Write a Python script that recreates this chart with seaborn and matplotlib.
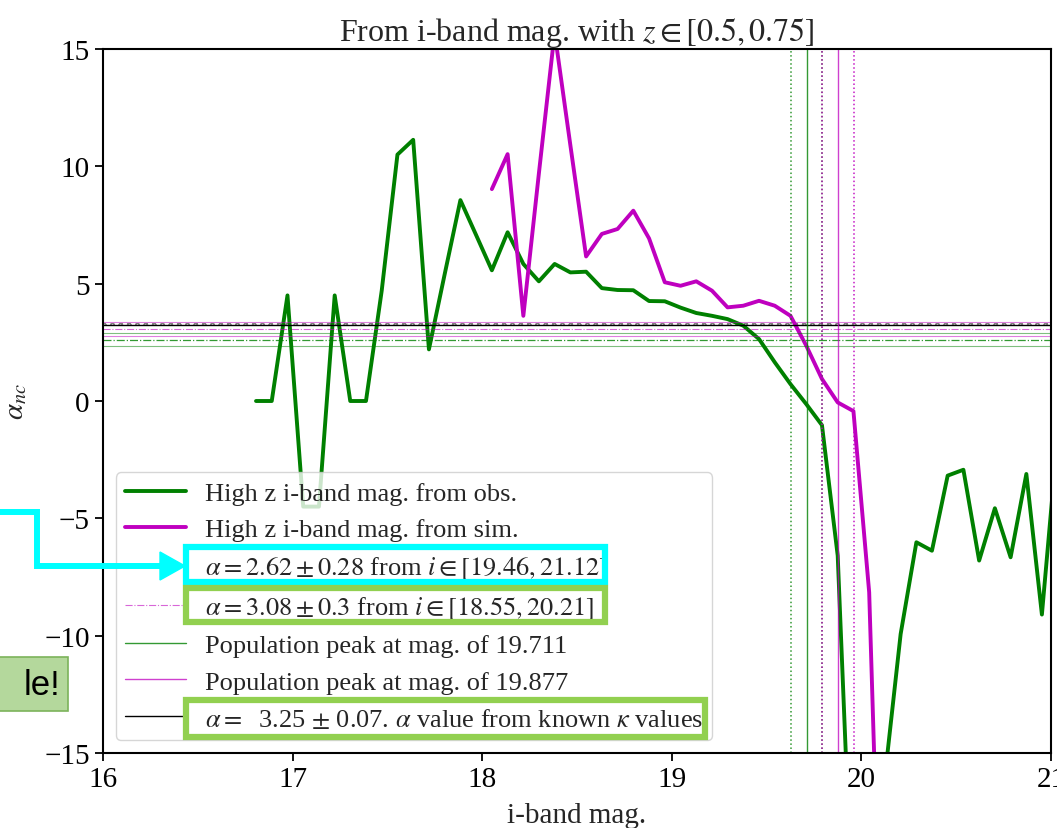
import numpy as np
import pandas as pd
import seaborn as sns
import matplotlib
matplotlib.use("Agg")
import matplotlib.pyplot as plt
import matplotlib.lines as mlines
from matplotlib.patches import Rectangle, Polygon
from matplotlib.lines import Line2D

sns.set_style("ticks")
plt.rcParams["font.family"] = ["Liberation Serif", "DejaVu Serif"]
plt.rcParams["mathtext.fontset"] = "stix"
plt.rcParams["axes.linewidth"] = 1.5
plt.rcParams["xtick.major.width"] = 1.3
plt.rcParams["ytick.major.width"] = 1.3
plt.rcParams["xtick.major.size"] = 6
plt.rcParams["ytick.major.size"] = 6
plt.rcParams["xtick.color"] = "black"
plt.rcParams["ytick.color"] = "black"
plt.rcParams["axes.edgecolor"] = "black"
plt.rcParams["hatch.linewidth"] = 1.0

# ---- alpha_nc per i-band magnitude bin ----
mag_obs = [16.807, 16.890, 16.973, 17.056, 17.139, 17.222, 17.304, 17.387,
           17.470, 17.553, 17.636, 17.719, 17.802, 17.885, 17.968, 18.051,
           18.134, 18.217, 18.299, 18.382, 18.465, 18.548, 18.631, 18.714,
           18.797, 18.880, 18.963, 19.046, 19.129, 19.212, 19.294, 19.377,
           19.460, 19.543, 19.626, 19.709, 19.792, 19.875, 19.958, 20.041,
           20.124, 20.207, 20.290, 20.372, 20.455, 20.538, 20.621, 20.704,
           20.787, 20.870, 20.952, 21.035]
alpha_obs = [0.0, 0.0, 4.5, -4.5, -4.5, 4.5, 0.0, 0.0,
             4.7, 10.5, 11.13, 2.2, 5.4, 8.56, 7.07, 5.57,
             7.19, 5.84, 5.1, 5.84, 5.48, 5.51, 4.81, 4.73,
             4.72, 4.26, 4.25, 3.98, 3.75, 3.63, 3.49, 3.21,
             2.64, 1.65, 0.72, -0.13, -1.03, -6.59, -23.0, -30.0,
             -16.0, -9.93, -6.02, -6.38, -3.18, -2.93, -6.8, -4.57,
             -6.66, -3.11, -9.1, -1.5]

mag_sim = [18.051, 18.134, 18.217, 18.299, 18.382, 18.465, 18.548, 18.631,
           18.714, 18.797, 18.880, 18.963, 19.046, 19.129, 19.212, 19.294,
           19.377, 19.460, 19.543, 19.626, 19.709, 19.792, 19.875, 19.958,
           20.041, 20.124]
alpha_sim = [9.03, 10.52, 3.63, 9.7, 15.7, 10.9, 6.16, 7.12,
             7.33, 8.11, 6.93, 5.06, 4.91, 5.1, 4.7, 3.99,
             4.06, 4.27, 4.06, 3.63, 2.36, 0.94, -0.06, -0.43,
             -8.15, -30.0]

# ---- fitted slopes and population peaks ----
fit_obs = (2.62, 0.28)
fit_sim = (3.08, 0.30)
fit_known = (3.25, 0.07)
peak_obs = 19.711
peak_sim = 19.877
bin_width = 0.083

label_obs = "High z i-band mag. from obs."
label_sim = "High z i-band mag. from sim."
label_fit_obs = r"$\alpha = 2.62 \pm 0.28$ from $i \in [19.46, 21.12]$"
label_fit_sim = r"$\alpha = 3.08 \pm 0.3$ from $i \in [18.55, 20.21]$"
label_peak_obs = "Population peak at mag. of 19.711"
label_peak_sim = "Population peak at mag. of 19.877"
label_known = r"$\alpha =$  3.25 $\pm$ 0.07. $\alpha$ value from known $\kappa$ values"

W, H = 1057, 829
fig = plt.figure(figsize=(W / 100, H / 100), dpi=100)
ax = fig.add_axes([103 / W, 1 - 754 / H, (1051 - 103) / W, (754 - 50) / H])

df_obs = pd.DataFrame({"mag": mag_obs, "alpha": alpha_obs})
df_sim = pd.DataFrame({"mag": mag_sim, "alpha": alpha_sim})
sns.lineplot(data=df_obs, x="mag", y="alpha", ax=ax, color="green", lw=2.8,
             estimator=None, sort=False)
sns.lineplot(data=df_sim, x="mag", y="alpha", ax=ax, color="m", lw=2.8,
             estimator=None, sort=False)

# slope bands
h_fit_obs = ax.axhline(fit_obs[0], color="green", ls="-.", lw=0.9, alpha=0.8)
for s in (-1, 1):
    ax.axhline(fit_obs[0] + s * fit_obs[1], color="green", lw=0.8, alpha=0.5)
h_fit_sim = ax.axhline(fit_sim[0], color="m", ls="-.", lw=0.8, alpha=0.6)
for s in (-1, 1):
    ax.axhline(fit_sim[0] + s * fit_sim[1], color="m", lw=0.8, alpha=0.5)
h_known = ax.axhline(fit_known[0], color="black", lw=1.0)
ax.axhspan(fit_known[0] - fit_known[1], fit_known[0] + fit_known[1],
           hatch="oo", fill=False, edgecolor="0.4", lw=0, alpha=0.8)

# population peaks
h_peak_obs = ax.axvline(peak_obs, color="green", lw=1.0, alpha=0.8)
for s in (-1, 1):
    ax.axvline(peak_obs + s * bin_width, color="green", ls=":", lw=1.1, alpha=0.8)
h_peak_sim = ax.axvline(peak_sim, color="m", lw=1.0, alpha=0.75)
for s in (-1, 1):
    ax.axvline(peak_sim + s * bin_width, color="m", ls=":", lw=1.1, alpha=0.9)

ax.set_xlim(16, 21)
ax.set_ylim(-15, 15)
ax.set_xticks([16, 17, 18, 19, 20, 21])
ax.set_yticks([-15, -10, -5, 0, 5, 10, 15])
ax.tick_params(labelsize=21)
ax.set_xlabel("i-band mag.", fontsize=21, labelpad=7)
ax.set_ylabel(r"$\alpha_{nc}$", fontsize=21, labelpad=11)
ax.set_title(r"From i-band mag. with $z \in [0.5, 0.75]$", fontsize=23, pad=1)
for sp in ax.spines.values():
    sp.set_visible(True)

leg_obs = mlines.Line2D([], [], color="green", lw=2.8)
leg_sim = mlines.Line2D([], [], color="m", lw=2.8)
ax.legend([leg_obs, leg_sim, h_fit_obs, h_fit_sim, h_peak_obs, h_peak_sim, h_known],
          [label_obs, label_sim, label_fit_obs, label_fit_sim,
           label_peak_obs, label_peak_sim, label_known],
          loc="lower left", fontsize=19, handlelength=2.3, handletextpad=0.7,
          labelspacing=0.49, borderaxespad=0.5, borderpad=0.35, framealpha=0.8)

# ---- slide call-outs on top of the figure ----
def px_rect(x0, y0, x1, y1, **kw):
    r = Rectangle((x0 / W, 1 - y1 / H), (x1 - x0) / W, (y1 - y0) / H,
                  transform=fig.transFigure, **kw)
    fig.add_artist(r)
    return r

CYAN = "#00ffff"
LIME = "#92d050"
px_rect(186, 548, 605, 583, fill=False, edgecolor=CYAN, lw=4.5, zorder=20)
px_rect(186, 589, 605, 623, fill=False, edgecolor=LIME, lw=4.5, zorder=20)
px_rect(186, 701, 705, 738, fill=False, edgecolor=LIME, lw=4.5, zorder=20)

arrow_x = [0, 37, 37, 165]
arrow_y = [513, 513, 567, 567]
fig.add_artist(Line2D([x / W for x in arrow_x], [1 - y / H for y in arrow_y],
                      transform=fig.transFigure, color=CYAN, lw=4.3,
                      solid_joinstyle="miter", zorder=21))
head = [(160, 553), (185, 567), (160, 581)]
fig.add_artist(Polygon([(x / W, 1 - y / H) for x, y in head], closed=True,
                       transform=fig.transFigure, color=CYAN, zorder=21))

px_rect(-5, 658, 68, 712, facecolor="#b4d89c", edgecolor="#7cb35a", lw=1.2, zorder=20)
fig.text(60 / W, 1 - 686 / H, "le!", ha="right", va="center", fontsize=25,
         family=["Liberation Sans", "DejaVu Sans"], color="black", zorder=22)

fig.savefig("out.png", dpi=100)
